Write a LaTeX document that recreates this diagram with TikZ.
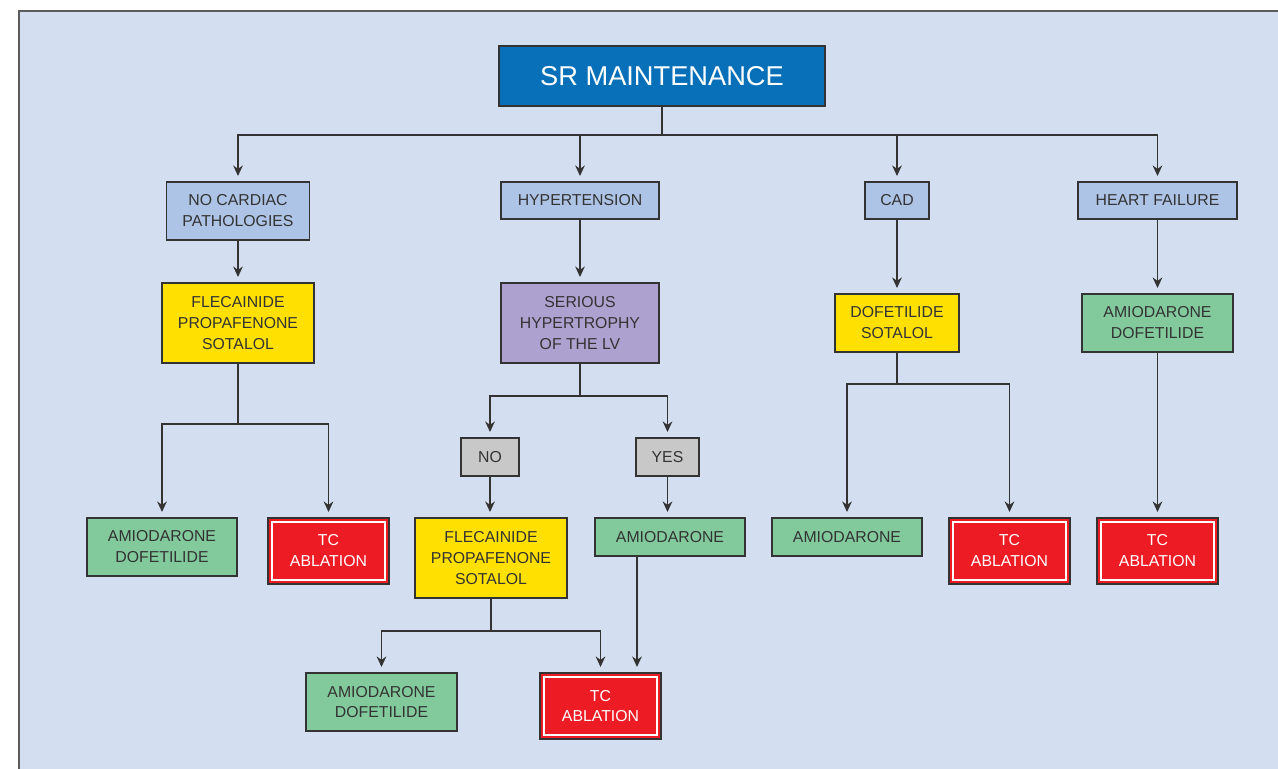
\documentclass[tikz,border=0pt]{standalone}
\usepackage{fontspec}
\setmainfont{Liberation Sans}
\usetikzlibrary{arrows.meta}
\definecolor{framebg}{HTML}{D3DFF1}
\definecolor{lineclr}{HTML}{333333}
\definecolor{titleblue}{HTML}{0870B9}
\definecolor{condblue}{HTML}{AEC4E6}
\definecolor{drugyellow}{HTML}{FFE000}
\definecolor{lvpurple}{HTML}{ADA1D0}
\definecolor{druggreen}{HTML}{82CA9C}
\definecolor{ablred}{HTML}{ED1C24}
\definecolor{answergray}{HTML}{C8C8C8}
\begin{document}
\begin{tikzpicture}[x=0.02cm,y=-0.02cm,
    box/.style={draw=lineclr,line width=0.85pt,inner sep=0pt,align=center,
        text=lineclr,font=\fontsize{9}{11.9}\selectfont},
    cond/.style={box,fill=condblue,minimum height=0.74cm},
    drug/.style={box,fill=drugyellow,minimum width=3.04cm,minimum height=1.6cm},
    alt/.style={box,fill=druggreen,minimum height=1.16cm,minimum width=3.02cm},
    amio/.style={box,fill=druggreen,minimum height=0.76cm,minimum width=3cm},
    answer/.style={box,fill=answergray,minimum height=0.76cm},
    ablation/.style={box,fill=ablred,text=white,minimum width=2.42cm,minimum height=1.32cm,
        path picture={\draw[white,line width=1pt]
            ([xshift=2.4pt,yshift=-2.4pt]path picture bounding box.north west) rectangle
            ([xshift=-2.4pt,yshift=2.4pt]path picture bounding box.south east);}},
    link/.style={draw=lineclr,line width=0.85pt},
    arrow/.style={link,-{Stealth[length=6pt,width=5.5pt]},shorten >=3pt}]
    \useasboundingbox (0,0) rectangle (1278,768);
    \draw[fill=framebg,draw=lineclr!80,line width=1.1pt](19,11)rectangle(1300,790);
    % top
    \node[box,fill=titleblue,text=white,minimum width=6.52cm,minimum height=1.2cm,
        font=\fontsize{15.5}{18}\selectfont] (title) at (662,76) {SR MAINTENANCE};
    \node[cond,minimum width=2.86cm,minimum height=1.16cm] (nocard) at (238,211) {NO CARDIAC\\PATHOLOGIES};
    \node[cond,minimum width=3.16cm] (hyper) at (580,200.5) {HYPERTENSION};
    \node[cond,minimum width=1.28cm] (cad) at (897,200.5) {CAD};
    \node[cond,minimum width=3.18cm] (hf) at (1157.5,200.5) {HEART FAILURE};
    \coordinate (bus) at (662,135);
    \draw[link] (title.south) -- (bus);
    \draw[arrow] (bus) -| (nocard.north);
    \draw[arrow] (bus) -| (hyper.north);
    \draw[arrow] (bus) -| (cad.north);
    \draw[arrow] (bus) -| (hf.north);
    % second row
    \node[drug] (fps1) at (238,323) {FLECAINIDE\\PROPAFENONE\\SOTALOL};
    \node[box,fill=lvpurple,minimum width=3.16cm,minimum height=1.6cm] (lvh) at (580,323) {SERIOUS\\HYPERTROPHY\\OF THE LV};
    \node[drug,minimum width=2.48cm,minimum height=1.16cm] (ds) at (897,323) {DOFETILIDE\\SOTALOL};
    \node[alt] (ad4) at (1157.5,323) {AMIODARONE\\DOFETILIDE};
    \draw[arrow] (nocard.south) -- (fps1.north);
    \draw[arrow] (hyper.south) -- (lvh.north);
    \draw[arrow] (cad.south) -- (ds.north);
    \draw[arrow] (hf.south) -- (ad4.north);
    % no cardiac pathologies
    \node[alt,minimum width=3cm] (ad1) at (162,547) {AMIODARONE\\DOFETILIDE};
    \node[ablation] (tc1) at (328.5,551) {TC\\ABLATION};
    \coordinate (s1) at (fps1.south |- 0,424);
    \draw[link] (fps1.south) -- (s1);
    \draw[arrow] (s1) -| (ad1.north);
    \draw[arrow] (s1) -| (tc1.north);
    % hypertension
    \node[answer,minimum width=1.16cm] (no) at (490,457) {NO};
    \node[answer,minimum width=1.26cm] (yes) at (667.5,457) {YES};
    \coordinate (s2) at (lvh.south |- 0,396);
    \draw[link] (lvh.south) -- (s2);
    \draw[arrow] (s2) -| (no.north);
    \draw[arrow] (s2) -| (yes.north);
    \node[drug] (fps2) at (491,558) {FLECAINIDE\\PROPAFENONE\\SOTALOL};
    \node[amio] (amio1) at (670,537) {AMIODARONE};
    \draw[arrow] (no.south) -- (no.south |- fps2.north);
    \draw[arrow] (yes.south) -- (yes.south |- amio1.north);
    \node[alt] (ad3) at (381.5,702) {AMIODARONE\\DOFETILIDE};
    \node[ablation] (tc3) at (600.5,706) {TC\\ABLATION};
    \coordinate (s3) at (fps2.south |- 0,631);
    \draw[link] (fps2.south) -- (s3);
    \draw[arrow] (s3) -| (ad3.north);
    \draw[arrow] (s3) -| (tc3.north);
    \draw[arrow] ([xshift=-0.66cm]amio1.south) -- ([xshift=-0.66cm]amio1.south |- tc3.north);
    % cad
    \node[amio] (amio2) at (847,537) {AMIODARONE};
    \node[ablation] (tc2) at (1009.5,551) {TC\\ABLATION};
    \coordinate (s4) at (ds.south |- 0,384);
    \draw[link] (ds.south) -- (s4);
    \draw[arrow] (s4) -| (amio2.north);
    \draw[arrow] (s4) -| (tc2.north);
    % heart failure
    \node[ablation] (tc4) at (1157.5,551) {TC\\ABLATION};
    \draw[arrow] (ad4.south) -- (tc4.north);
\end{tikzpicture}
\end{document}
